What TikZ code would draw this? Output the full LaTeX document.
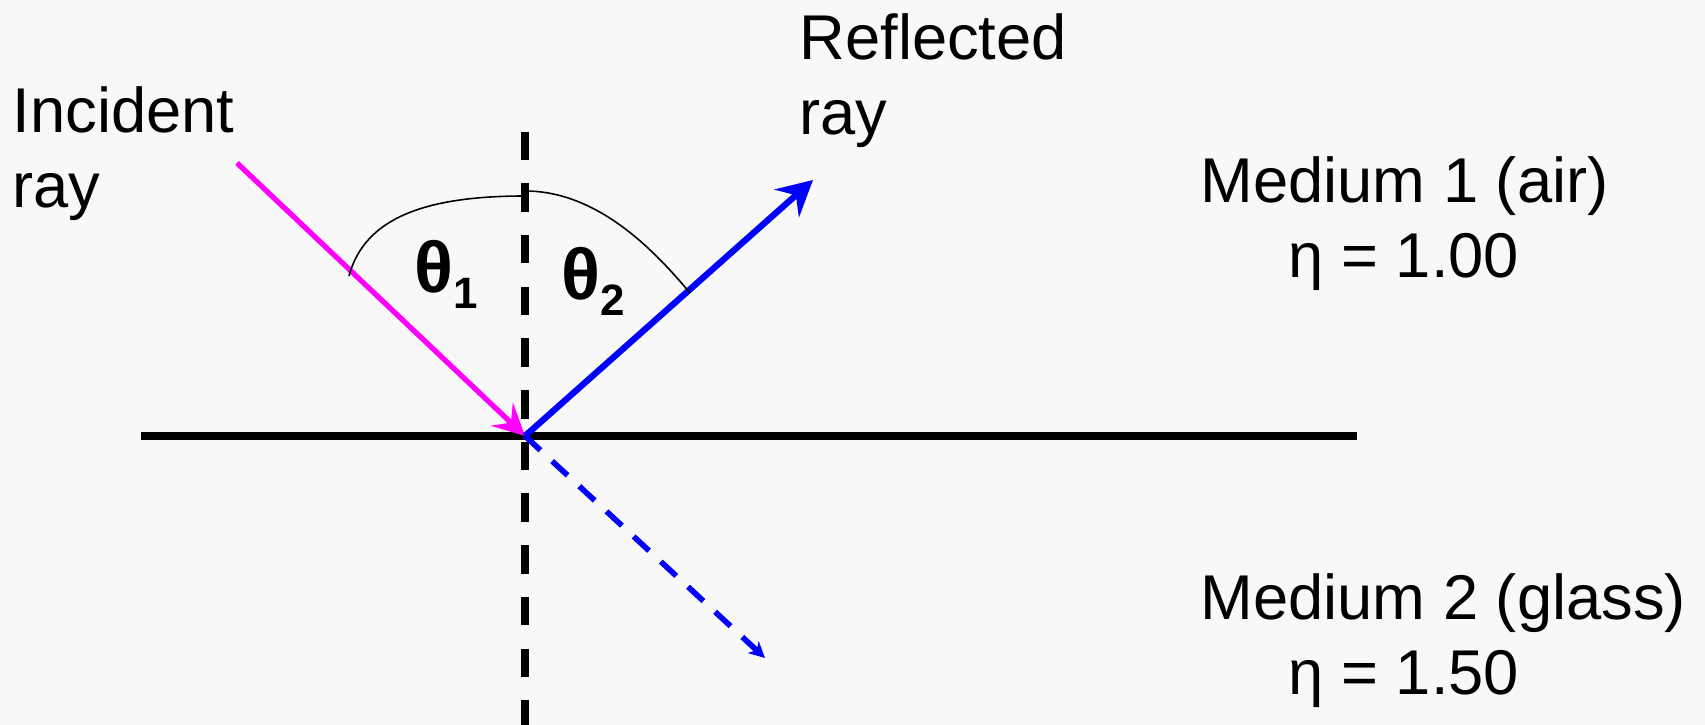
\documentclass[tikz,border=0pt]{standalone}
\usepackage{fontspec}
\setmainfont{Liberation Sans}
\usepackage{xcolor}
\usetikzlibrary{arrows.meta,calc}

\definecolor{bgcol}{RGB}{248,248,248}
\definecolor{raymag}{RGB}{255,0,255}
\definecolor{rayblue}{RGB}{0,0,255}

\newcommand{\thsub}[1]{\raisebox{-0.155cm}{\fontsize{12.5}{12.5}\selectfont #1}}

\begin{document}
\begin{tikzpicture}[
  lbl/.style={anchor=base west, inner sep=0pt, align=left,
    font=\fontsize{18}{21.6}\selectfont},
  thlbl/.style={anchor=base west, inner sep=0pt,
    font=\fontsize{20.5}{24}\selectfont\bfseries},
  incray/.style={raymag, line width=1.5pt,
    -{Stealth[length=9pt, width=9pt, inset=3.5pt]}},
  refray/.style={rayblue, line width=1.8pt,
    -{Stealth[length=10pt, width=10.5pt, inset=3.5pt]}},
  transray/.style={rayblue, line width=1.6pt,
    dash pattern=on 0.21cm off 0.16cm,
    -{Stealth[length=4.5pt, width=4.5pt, inset=1.2pt]}},
  ]
  % Background
  \fill[bgcol] (0,0) rectangle (17.05,7.25);
  \useasboundingbox (0,0) rectangle (17.05,7.25);

  % Points
  \coordinate (O) at (5.25,2.89);
  \coordinate (surfL) at (1.41,2.89);
  \coordinate (surfR) at (13.57,2.89);
  \coordinate (normT) at (5.25,5.934);
  \coordinate (normB) at (5.25,0);
  \coordinate (inc) at (2.37,5.62);
  \coordinate (refl) at (8.13,5.45);
  \coordinate (trans) at (7.65,0.67);

  % Interface and normal
  \draw[line width=2pt] (surfL) -- (surfR);
  \draw[line width=2pt, dash pattern=on 0.285cm off 0.232cm] (normT) -- (normB);

  % Rays
  \draw[transray] (O) -- (trans);
  \draw[incray] (inc) -- (O);
  \draw[refray] (O) -- (refl);

  % Angle arcs
  \coordinate (arcL) at (3.49,4.49);
  \coordinate (arcTL) at (5.25,5.29);
  \coordinate (arcTR) at (5.25,5.34);
  \coordinate (arcR) at (6.90,4.32);
  \draw[line width=0.45pt] (arcL) .. controls +(75:0.6) and +(-1,0) .. (arcTL);
  \draw[line width=0.45pt] (arcTR) .. controls +(0.75,0) and +(130:0.5) .. (arcR);

  % Angle labels
  \node[thlbl] (th1) at (4.14,4.32) {θ\thsub{1}};
  \node[thlbl] (th2) at (5.61,4.25) {θ\thsub{2}};

  % Ray labels (base = last line)
  \node[lbl] (inclbl) at (0.12,5.17) {Incident\\ray};
  \node[lbl] (refllbl) at (7.99,5.90) {Reflected\\ray};

  % Media
  \node[lbl] (med1) at (12.00,4.47) {Medium 1 (air)\\\hspace*{0.88cm}η = 1.00};
  \node[lbl] (med2) at (12.00,0.30) {Medium 2 (glass)\\\hspace*{0.88cm}η = 1.50};
\end{tikzpicture}
\end{document}
